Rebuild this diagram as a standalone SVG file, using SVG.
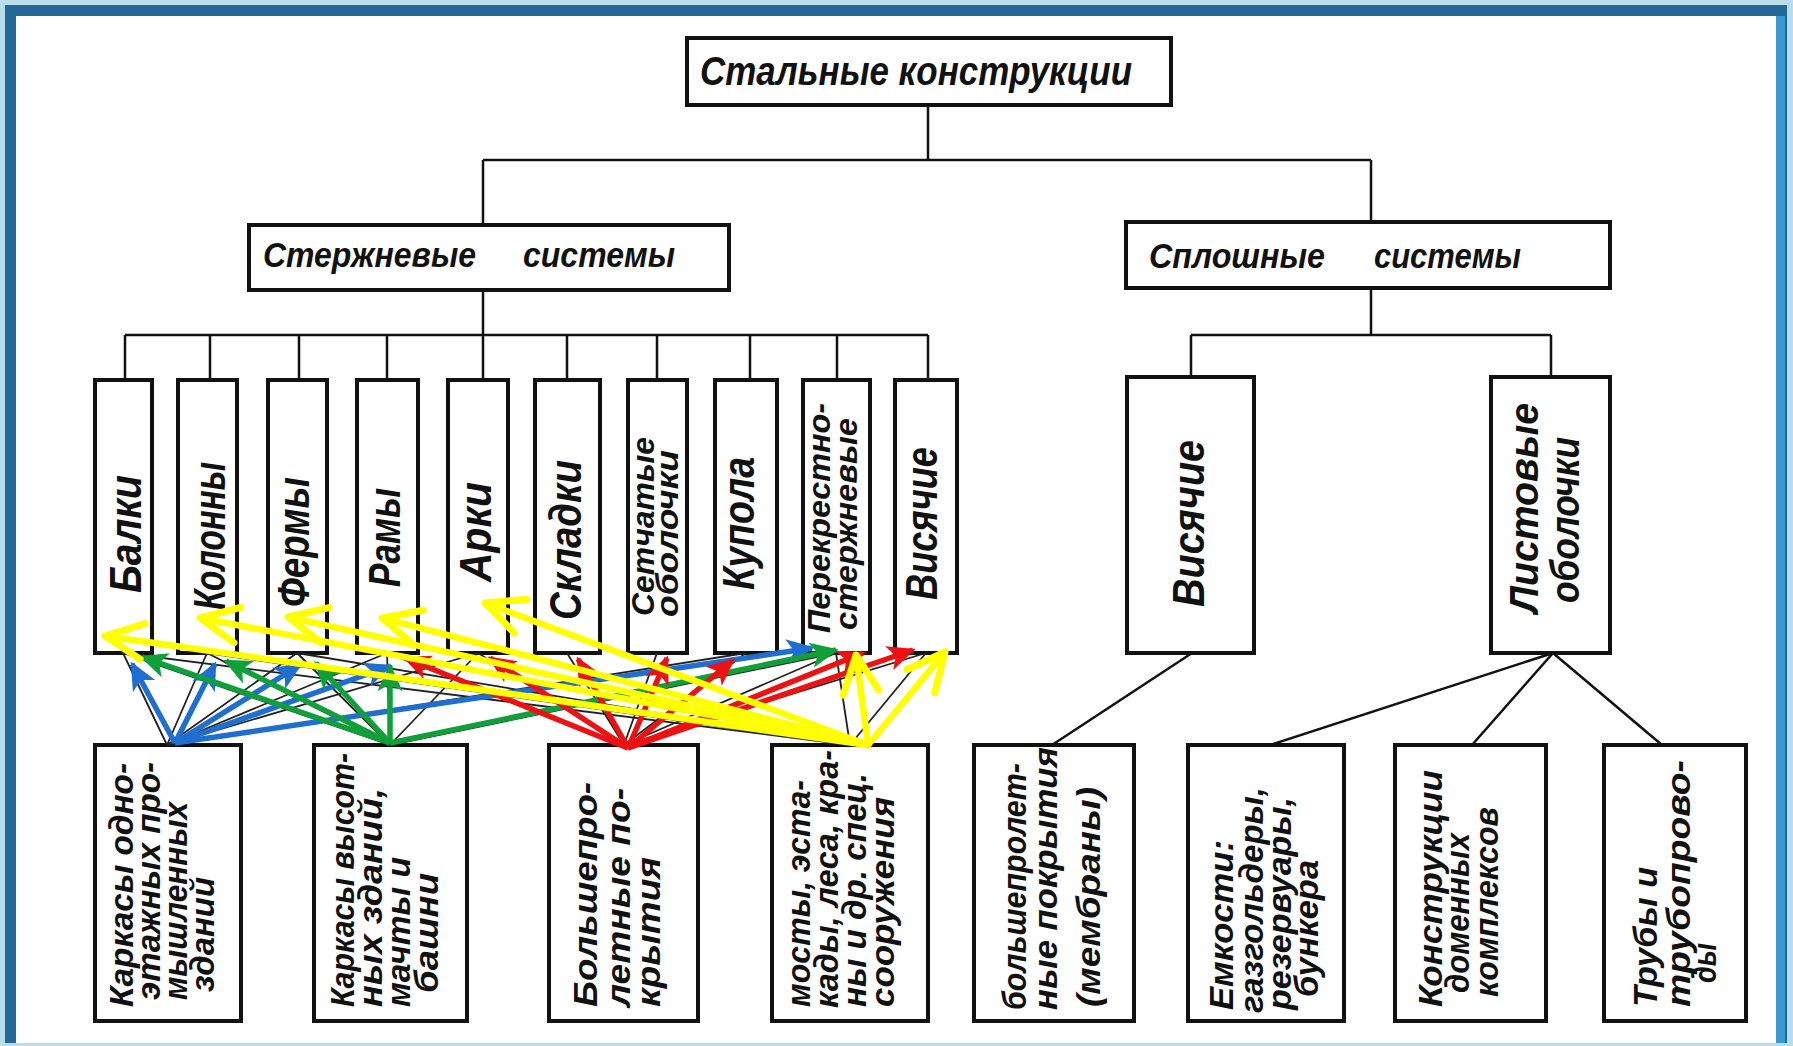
<svg xmlns="http://www.w3.org/2000/svg" width="1793" height="1046" viewBox="0 0 1793 1046">
<style>
.box{fill:#fff;stroke:#111;stroke-width:4}
.ln{stroke:#111;stroke-width:2.5;fill:none}
.thin{stroke:#222;stroke-width:1.8;fill:none}
.t{font-family:"Liberation Sans","DejaVu Sans",sans-serif;font-style:italic;font-weight:bold;fill:#111}
.h{font-size:41px}
.v{font-size:44px}
.v2{font-size:31px}
.b{font-size:33px}
.ay{stroke:#ffff00;stroke-width:6.5;fill:none;stroke-linecap:round;marker-end:url(#my)}
.ar{stroke:#ee1111;stroke-width:5.5;fill:none;marker-end:url(#mr)}
.ab{stroke:#1f6fd0;stroke-width:5.5;fill:none;marker-end:url(#mb)}
.ag{stroke:#0fa03a;stroke-width:5.5;fill:none;marker-end:url(#mg)}
</style>
<defs>
<marker id="my" viewBox="0 0 50 50" refX="44" refY="25" markerWidth="50" markerHeight="50" markerUnits="userSpaceOnUse" orient="auto" overflow="visible"><path d="M6,7 L44,25 L6,43" fill="none" stroke="#ffff00" stroke-width="7" stroke-linecap="round" stroke-linejoin="round"/></marker>
<marker id="mr" viewBox="0 0 10 10" refX="9" refY="5" markerWidth="28" markerHeight="28" markerUnits="userSpaceOnUse" orient="auto"><path d="M0,0.5 L10,5 L0,9.5 L2.5,5 z" fill="#ee1111"/></marker>
<marker id="mb" viewBox="0 0 10 10" refX="9" refY="5" markerWidth="28" markerHeight="28" markerUnits="userSpaceOnUse" orient="auto"><path d="M0,0.5 L10,5 L0,9.5 L2.5,5 z" fill="#1f6fd0"/></marker>
<marker id="mg" viewBox="0 0 10 10" refX="9" refY="5" markerWidth="28" markerHeight="28" markerUnits="userSpaceOnUse" orient="auto"><path d="M0,0.5 L10,5 L0,9.5 L2.5,5 z" fill="#0fa03a"/></marker>
</defs>

<!-- frame -->
<rect x="0" y="0" width="1793" height="1046" fill="#b9dde9"/>
<rect x="5" y="5" width="1782" height="1038" fill="#24689a"/>
<rect x="1776" y="16" width="9" height="1027" fill="#3b98d0"/>
<rect x="16" y="16" width="1760" height="1027" fill="#ffffff"/>

<!-- level 0 / 1 -->
<g id="n-steel"><rect class="box" x="687" y="38" width="484" height="67"/><text class="t h" x="700" y="85" textLength="432" lengthAdjust="spacingAndGlyphs">Стальные конструкции</text></g>
<g id="n-rod"><rect class="box" x="249" y="225" width="480" height="65"/><text class="t" style="font-size:35px" x="263" y="267" textLength="213" lengthAdjust="spacingAndGlyphs">Стержневые</text><text class="t" style="font-size:35px" x="523" y="267" textLength="152" lengthAdjust="spacingAndGlyphs">системы</text></g>
<g id="n-solid"><rect class="box" x="1126" y="222" width="484" height="66"/><text class="t" style="font-size:35px" x="1149" y="268" textLength="176" lengthAdjust="spacingAndGlyphs">Сплошные</text><text class="t" style="font-size:35px" x="1374" y="268" textLength="147" lengthAdjust="spacingAndGlyphs">системы</text></g>

<!-- rod systems -->
<g id="n-balki"><rect class="box" x="95" y="380" width="57" height="273"/><text class="t v" transform="translate(141,593) rotate(-90)" textLength="118" lengthAdjust="spacingAndGlyphs">Балки</text></g>
<g id="n-kolonny"><rect class="box" x="178" y="380" width="59" height="273"/><text class="t v" transform="translate(225,610) rotate(-90)" textLength="148" lengthAdjust="spacingAndGlyphs">Колонны</text></g>
<g id="n-fermy"><rect class="box" x="268" y="380" width="59" height="273"/><text class="t v" transform="translate(309,607) rotate(-90)" textLength="130" lengthAdjust="spacingAndGlyphs">Фермы</text></g>
<g id="n-ramy"><rect class="box" x="357" y="380" width="61" height="273"/><text class="t v" transform="translate(400,587) rotate(-90)" textLength="99" lengthAdjust="spacingAndGlyphs">Рамы</text></g>
<g id="n-arki"><rect class="box" x="448" y="380" width="60" height="273"/><text class="t v" transform="translate(491,582) rotate(-90)" textLength="100" lengthAdjust="spacingAndGlyphs">Арки</text></g>
<g id="n-skladki"><rect class="box" x="535" y="380" width="65" height="273"/><text class="t v" transform="translate(581,620) rotate(-90)" textLength="160" lengthAdjust="spacingAndGlyphs">Складки</text></g>
<g id="n-setch"><rect class="box" x="628" y="380" width="59" height="273"/><text class="t v2" transform="translate(654,616) rotate(-90)" textLength="179" lengthAdjust="spacingAndGlyphs">Сетчатые</text><text class="t v2" transform="translate(678,617) rotate(-90)" textLength="167" lengthAdjust="spacingAndGlyphs">оболочки</text></g>
<g id="n-kupola"><rect class="box" x="715" y="380" width="62" height="273"/><text class="t v" transform="translate(754,590) rotate(-90)" textLength="133" lengthAdjust="spacingAndGlyphs">Купола</text></g>
<g id="n-perekr"><rect class="box" x="803" y="380" width="67" height="273"/><text class="t v2" transform="translate(830,633) rotate(-90)" textLength="230" lengthAdjust="spacingAndGlyphs">Перекрестно-</text><text class="t v2" transform="translate(857,630) rotate(-90)" textLength="212" lengthAdjust="spacingAndGlyphs">стержневые</text></g>
<g id="n-visyach1"><rect class="box" x="895" y="380" width="62" height="273"/><text class="t v" transform="translate(937,600) rotate(-90)" textLength="153" lengthAdjust="spacingAndGlyphs">Висячие</text></g>

<!-- solid systems -->
<g id="n-visyach2"><rect class="box" x="1127" y="377" width="127" height="276"/><text class="t v" transform="translate(1204,607) rotate(-90)" textLength="167" lengthAdjust="spacingAndGlyphs">Висячие</text></g>
<g id="n-listovye"><rect class="box" x="1491" y="377" width="119" height="276"/><text class="t" style="font-size:40px" transform="translate(1538,613) rotate(-90)" textLength="210" lengthAdjust="spacingAndGlyphs">Листовые</text><text class="t" style="font-size:40px" transform="translate(1579,603) rotate(-90)" textLength="166" lengthAdjust="spacingAndGlyphs">оболочки</text></g>

<!-- bottom row -->
<g id="n-b1"><rect class="box" x="95" y="745" width="146" height="276"/>
<text class="t b" transform="translate(133,1007) rotate(-90)" textLength="244" lengthAdjust="spacingAndGlyphs">Каркасы одно-</text>
<text class="t b" transform="translate(160,1000) rotate(-90)" textLength="238" lengthAdjust="spacingAndGlyphs">этажных про-</text>
<text class="t b" transform="translate(187,1000) rotate(-90)" textLength="198" lengthAdjust="spacingAndGlyphs">мышленных</text>
<text class="t b" transform="translate(214,992) rotate(-90)" textLength="115" lengthAdjust="spacingAndGlyphs">зданий</text></g>
<g id="n-b2"><rect class="box" x="314" y="745" width="153" height="276"/>
<text class="t b" transform="translate(354,1007) rotate(-90)" textLength="254" lengthAdjust="spacingAndGlyphs">Каркасы высот-</text>
<text class="t b" transform="translate(382,1007) rotate(-90)" textLength="219" lengthAdjust="spacingAndGlyphs">ных зданий,</text>
<text class="t b" transform="translate(410,1007) rotate(-90)" textLength="150" lengthAdjust="spacingAndGlyphs">мачты и</text>
<text class="t b" transform="translate(438,993) rotate(-90)" textLength="120" lengthAdjust="spacingAndGlyphs">башни</text></g>
<g id="n-b3"><rect class="box" x="549" y="745" width="149" height="276"/>
<text class="t b" transform="translate(597,1007) rotate(-90)" textLength="225" lengthAdjust="spacingAndGlyphs">Большепро-</text>
<text class="t b" transform="translate(630,1007) rotate(-90)" textLength="219" lengthAdjust="spacingAndGlyphs">летные по-</text>
<text class="t b" transform="translate(660,1007) rotate(-90)" textLength="150" lengthAdjust="spacingAndGlyphs">крытия</text></g>
<g id="n-b4"><rect class="box" x="772" y="745" width="156" height="276"/>
<text class="t b" transform="translate(810,1007) rotate(-90)" textLength="227" lengthAdjust="spacingAndGlyphs">мосты, эста-</text>
<text class="t b" transform="translate(838,1008) rotate(-90)" textLength="258" lengthAdjust="spacingAndGlyphs">кады, леса, кра-</text>
<text class="t b" transform="translate(866,1007) rotate(-90)" textLength="234" lengthAdjust="spacingAndGlyphs">ны и др. спец.</text>
<text class="t b" transform="translate(894,1007) rotate(-90)" textLength="210" lengthAdjust="spacingAndGlyphs">сооружения</text></g>
<g id="n-b5"><rect class="box" x="974" y="745" width="160" height="276"/>
<text class="t b" transform="translate(1026,1010) rotate(-90)" textLength="247" lengthAdjust="spacingAndGlyphs">большепролет-</text>
<text class="t b" transform="translate(1057,1010) rotate(-90)" textLength="263" lengthAdjust="spacingAndGlyphs">ные покрытия</text>
<text class="t b" transform="translate(1100,1007) rotate(-90)" textLength="220" lengthAdjust="spacingAndGlyphs">(мембраны)</text></g>
<g id="n-b6"><rect class="box" x="1188" y="745" width="156" height="276"/>
<text class="t b" transform="translate(1233,1010) rotate(-90)" textLength="170" lengthAdjust="spacingAndGlyphs">Емкости:</text>
<text class="t b" transform="translate(1263,1013) rotate(-90)" textLength="226" lengthAdjust="spacingAndGlyphs">газгольдеры,</text>
<text class="t b" transform="translate(1291,1010) rotate(-90)" textLength="213" lengthAdjust="spacingAndGlyphs">резервуары,</text>
<text class="t b" transform="translate(1318,997) rotate(-90)" textLength="137" lengthAdjust="spacingAndGlyphs">бункера</text></g>
<g id="n-b7"><rect class="box" x="1395" y="745" width="151" height="276"/>
<text class="t b" transform="translate(1442,1007) rotate(-90)" textLength="237" lengthAdjust="spacingAndGlyphs">Конструкции</text>
<text class="t b" transform="translate(1469,993) rotate(-90)" textLength="160" lengthAdjust="spacingAndGlyphs">доменных</text>
<text class="t b" transform="translate(1498,997) rotate(-90)" textLength="190" lengthAdjust="spacingAndGlyphs">комплексов</text></g>
<g id="n-b8"><rect class="box" x="1604" y="745" width="142" height="276"/>
<text class="t b" transform="translate(1657,1007) rotate(-90)" textLength="140" lengthAdjust="spacingAndGlyphs">Трубы и</text>
<text class="t b" transform="translate(1690,1007) rotate(-90)" textLength="247" lengthAdjust="spacingAndGlyphs">трубопрово-</text>
<text class="t b" transform="translate(1716,983) rotate(-90)" textLength="40" lengthAdjust="spacingAndGlyphs">ды</text></g>

<!-- connectors (drawn over the nodes, as in the picture) -->
<g id="connectors">
  <path class="ln" d="M928,105 V160 M483,160 H1371 M483,160 V225 M1371,160 V222"/>
  <path class="ln" d="M483,290 V335 M125,335 H928 M125,335 V380 M210,335 V380 M299,335 V380 M387,335 V380 M483,335 V380 M567,335 V380 M657,335 V380 M750,335 V380 M837,335 V380 M928,335 V380"/>
  <path class="ln" d="M1371,288 V335 M1191,335 H1551 M1191,335 V377 M1551,335 V377"/>
  <path class="ln" d="M1192,653 L1052,745 M1553,653 L1270,745 M1553,653 L1472,745 M1553,653 L1662,745"/>
  <path class="thin" d="M167,745 L123,653 M167,745 L207,653 M167,745 L297,653 M167,745 L387,653 M167,745 L478,653 M167,745 L746,653
    M390,745 L123,653 M390,745 L207,653 M390,745 L297,653 M390,745 L387,653 M390,745 L478,653 M390,745 L836,653
    M624,745 L387,653 M624,745 L478,653 M624,745 L567,653 M624,745 L657,653 M624,745 L746,653 M624,745 L836,653 M624,745 L926,653
    M850,745 L123,653 M850,745 L207,653 M850,745 L297,653 M850,745 L836,653 M850,745 L926,653"/>
  <path class="ab" d="M175,743 L132,664"/>
  <path class="ab" d="M175,743 L215,664"/>
  <path class="ab" d="M175,743 L300,665"/>
  <path class="ab" d="M175,743 L390,666"/>
  <path class="ab" d="M175,743 L812,648"/>
  <path class="ag" d="M390,743 L142,657"/>
  <path class="ag" d="M390,743 L226,661"/>
  <path class="ag" d="M390,743 L316,663"/>
  <path class="ag" d="M390,743 L390,666"/>
  <path class="ag" d="M390,743 L836,650"/>
  <path class="ar" d="M628,748 L405,658"/>
  <path class="ar" d="M628,748 L490,658"/>
  <path class="ar" d="M628,748 L578,659"/>
  <path class="ar" d="M628,748 L667,658"/>
  <path class="ar" d="M628,748 L733,660"/>
  <path class="ar" d="M628,748 L863,653"/>
  <path class="ar" d="M628,748 L913,650"/>
  <path class="ay" d="M868,745 L105,636"/>
  <path class="ay" d="M868,745 L200,618"/>
  <path class="ay" d="M868,745 L288,617"/>
  <path class="ay" d="M868,745 L382,618"/>
  <path class="ay" d="M868,745 L485,603"/>
  <path class="ay" d="M868,745 L856,655"/>
  <path class="ay" d="M868,745 L945,652"/>
</g>
</svg>
